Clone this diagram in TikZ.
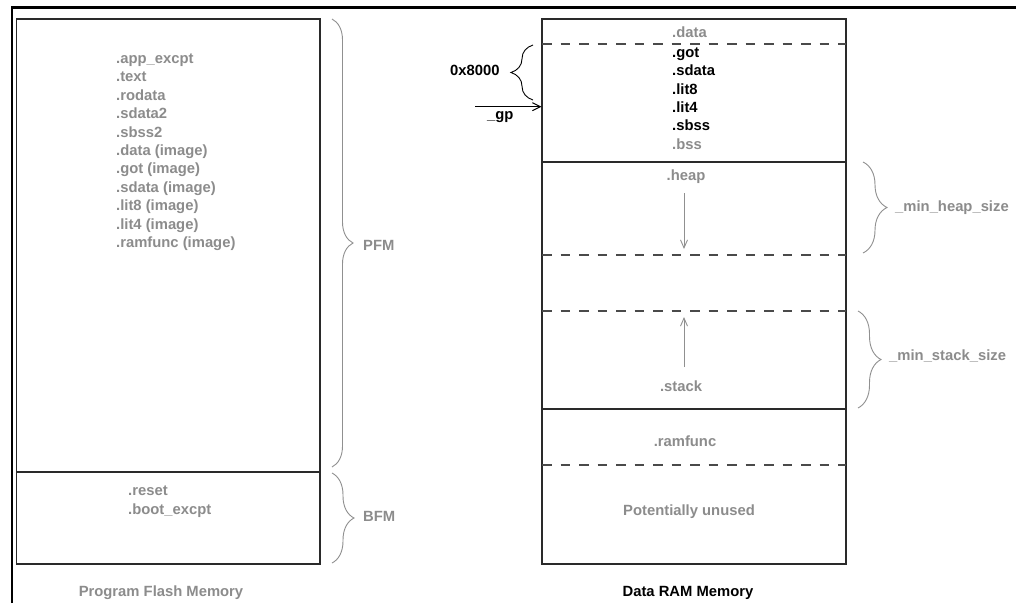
\documentclass[tikz,border=0pt]{standalone}
\usepackage{fontspec}
\newfontfamily\lblfont{Liberation Sans}
\usetikzlibrary{decorations.pathreplacing,arrows.meta}
\definecolor{txtgray}{HTML}{8C8C8C}
\definecolor{brgray}{HTML}{909090}
\definecolor{boxline}{HTML}{2A2A2A}
\definecolor{dashline}{HTML}{4A4A4A}
\begin{document}
\begin{tikzpicture}[x=1pt,y=-1pt,
  lbl/.style={font=\lblfont\bfseries\fontsize{14.8}{18}\selectfont, inner sep=0pt, text=txtgray},
  blk/.style={lbl, text=black},
  box/.style={draw=boxline, line width=1.2pt},
  dashsep/.style={draw=dashline, line width=1.4pt, dash pattern=on 9.5pt off 9pt},
  brc/.style={draw=brgray, line width=0.9pt, decorate},
  garrow/.style={draw=brgray, line width=0.9pt, -{Straight Barb[length=8pt,width=7pt]}},
  karrow/.style={draw=black, line width=1pt, -{Straight Barb[length=8pt,width=8pt]}}]
\useasboundingbox (0,0) rectangle (1016,603);
\fill[white] (0,0) rectangle (1016,603);
% outer frame (top and left)
\draw[line width=2.5pt, line join=miter] (12,603) -- (12,7.5) -- (1016,7.5);

% ---------- Program Flash Memory ----------
\draw[box] (16.5,19) rectangle (320,564);
\draw[box] (16.5,472) -- (320,472);
\foreach \t [count=\i from 0] in {.app\_excpt,.text,.rodata,.sdata2,.sbss2,.data (image),.got (image),.sdata (image),.lit8 (image),.lit4 (image),.ramfunc (image)}
  \node[lbl, anchor=base west] (pf\i) at (116,63.5+18.4*\i) {\t};
\node[lbl, anchor=base west] (bf0) at (128,495) {.reset};
\node[lbl, anchor=base west] (bf1) at (128,514) {.boot\_excpt};
\draw[brc, decoration={brace, amplitude=21pt}] (332,19) -- (332,467);
\draw[brc, decoration={brace, amplitude=22pt}] (332,473) -- (332,563);
\node[lbl, anchor=base west] (pfm) at (363,250) {PFM};
\node[lbl, anchor=base west] (bfm) at (363,521) {BFM};
\node[lbl, anchor=base] (pfmtitle) at (161,596) {Program Flash Memory};

% ---------- Data RAM Memory ----------
\draw[box] (542,19) rectangle (846,564);
\draw[box] (542,162) -- (846,162);
\draw[box] (542,409) -- (846,409);
\draw[dashsep] (542,44) -- (846,44);
\draw[dashsep] (542,255) -- (846,255);
\draw[dashsep] (542,311) -- (846,311);
\draw[dashsep] (542,465) -- (846,465);

\node[lbl, anchor=base west] (rdata) at (672,37.7) {.data};
\foreach \t [count=\i from 0] in {.got,.sdata,.lit8,.lit4,.sbss}
  \node[blk, anchor=base west] (rs\i) at (672,57.3+18.4*\i) {\t};
\node[lbl, anchor=base west] (rbss) at (672,149) {.bss};

\node[lbl, anchor=base] (heap) at (686,180) {.heap};
\coordinate (hs) at (684,193);
\coordinate (he) at (684,249);
\draw[garrow] (hs) -- (he);
\coordinate (ss) at (684,367);
\coordinate (se) at (684,317);
\draw[garrow] (ss) -- (se);
\node[lbl, anchor=base] (stack) at (681,391) {.stack};
\node[lbl, anchor=base] (ramf) at (685,446) {.ramfunc};
\node[lbl, anchor=base] (unused) at (689,515) {Potentially unused};
\node[blk, anchor=base] (dtitle) at (688,596) {Data RAM Memory};

\draw[brc, decoration={brace, amplitude=24pt}] (863,162) -- (863,253);
\draw[brc, decoration={brace, amplitude=23pt}] (858,311) -- (858,408);
\node[lbl, anchor=base west] (minheap) at (895,211.5) {\_min\_heap\_size};
\node[lbl, anchor=base west] (minstack) at (889,360) {\_min\_stack\_size};

% 0x8000 and _gp
\draw[brc, draw=black, decoration={brace, amplitude=22pt}] (533,100) -- (533,45);
\node[blk, anchor=base west] (hex) at (450,75.7) {0x8000};
\coordinate (gpstart) at (475,106.7);
\coordinate (gpend) at (541.5,106.7);
\draw[karrow] (gpstart) -- (gpend);
\node[blk, anchor=base west] (gp) at (487,119) {\_gp};
\end{tikzpicture}
\end{document}
